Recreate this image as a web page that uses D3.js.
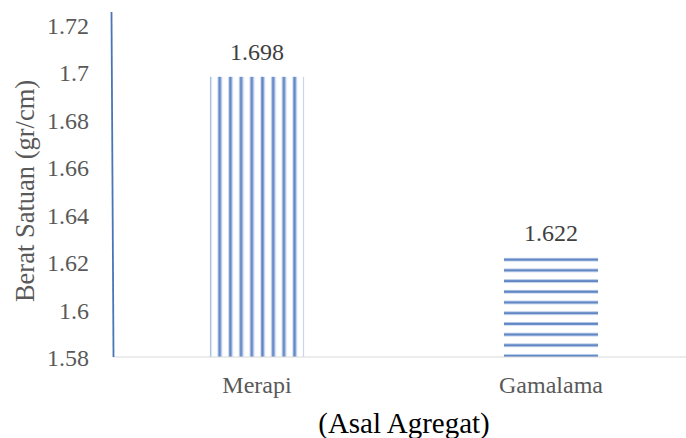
<!DOCTYPE html>
<html>
<head>
<meta charset="utf-8">
<script src="https://cdn.jsdelivr.net/npm/d3@7"></script>
<style>
  html, body { margin: 0; padding: 0; background: #fff; }
  svg { display: block; }
</style>
</head>
<body>
<svg id="chart" width="686" height="438"></svg>
<script>
// Unit weight by aggregate origin
const categories = ["Merapi", "Gamalama"];
const values = [1.698, 1.622];
const valueLabels = ["1.698", "1.622"];
const yTicks = [1.58, 1.6, 1.62, 1.64, 1.66, 1.68, 1.7, 1.72];
const yTickLabels = ["1.58", "1.6", "1.62", "1.64", "1.66", "1.68", "1.7", "1.72"];
const stripeDirections = ["vertical", "horizontal"];

const svg = d3.select("#chart");
const serif = "'Liberation Serif'";

const y = d3.scaleLinear().domain([1.58, 1.7253]).range([357, 12]);
const x = d3.scaleBand().domain(categories).range([110, 698]).paddingInner(0.68).paddingOuter(0.34);

// Stripe patterns
const defs = svg.append("defs");
const period = 10.7;
stripeDirections.forEach((dir, i) => {
  const p = defs.append("pattern")
    .attr("id", "stripe-" + i)
    .attr("patternUnits", "userSpaceOnUse")
    .attr("width", dir === "vertical" ? period : 20)
    .attr("height", dir === "vertical" ? 20 : period);
  if (dir === "vertical") {
    p.attr("x", x(categories[i]) + 0.5);
    p.append("rect").attr("x", 0).attr("y", 0).attr("width", period).attr("height", 20).attr("fill", "#ffffff");
    p.append("rect").attr("x", 0).attr("y", 0).attr("width", 1.2).attr("height", 20).attr("fill", "#c6d6ee");
    p.append("rect").attr("x", 7.2).attr("y", 0).attr("width", 3.5).attr("height", 20).attr("fill", "#b9cbe9");
    p.append("rect").attr("x", 8.1).attr("y", 0).attr("width", 2.2).attr("height", 20).attr("fill", "#5f86c4");
  } else {
    p.attr("y", y(values[i]) + 0.5);
    p.append("rect").attr("x", 0).attr("y", 0).attr("width", 20).attr("height", period).attr("fill", "#ffffff");
    p.append("rect").attr("x", 0).attr("y", 0).attr("width", 20).attr("height", 3.6).attr("fill", "#b9cbe9");
    p.append("rect").attr("x", 0).attr("y", 0.9).attr("width", 20).attr("height", 2.0).attr("fill", "#5f86c4");
  }
});

// Bars
svg.append("g").selectAll("rect")
  .data(categories)
  .join("rect")
  .attr("x", d => x(d))
  .attr("width", x.bandwidth())
  .attr("y", (d, i) => y(values[i]))
  .attr("height", (d, i) => y(1.58) - y(values[i]))
  .attr("fill", (d, i) => "url(#stripe-" + i + ")");

// Value labels
svg.append("g").selectAll("text")
  .data(categories)
  .join("text")
  .attr("x", d => x(d) + x.bandwidth() / 2)
  .attr("y", (d, i) => y(values[i]) - 16.5)
  .attr("text-anchor", "middle")
  .style("font-family", serif)
  .style("font-size", "24px")
  .attr("fill", "#404040")
  .text((d, i) => valueLabels[i]);

// Category axis baseline
svg.append("line")
  .attr("x1", 113).attr("x2", 686)
  .attr("y1", y(1.58)).attr("y2", y(1.58))
  .attr("stroke", "#d9d9d9").attr("stroke-width", 1.2);

// Value axis line
svg.append("line")
  .attr("x1", 111.5).attr("x2", 113.5)
  .attr("y1", 12).attr("y2", y(1.58))
  .attr("stroke", "#4a76b8").attr("stroke-width", 1.8);

// Y tick labels
svg.append("g").selectAll("text")
  .data(yTicks)
  .join("text")
  .attr("x", 89)
  .attr("y", d => y(d) + 9)
  .attr("text-anchor", "end")
  .style("font-family", serif)
  .style("font-size", "24px")
  .attr("fill", "#595959")
  .text((d, i) => yTickLabels[i]);

// Category labels
svg.append("g").selectAll("text")
  .data(categories)
  .join("text")
  .attr("x", d => x(d) + x.bandwidth() / 2)
  .attr("y", 393)
  .attr("text-anchor", "middle")
  .style("font-family", serif)
  .style("font-size", "24px")
  .attr("fill", "#595959")
  .text(d => d);

// Axis titles
svg.append("text")
  .attr("transform", "translate(34,191) rotate(-90)")
  .attr("text-anchor", "middle")
  .style("font-family", serif)
  .style("font-size", "26.5px")
  .attr("fill", "#595959")
  .text("Berat Satuan (gr/cm)");

svg.append("text")
  .attr("x", 404)
  .attr("y", 433)
  .attr("text-anchor", "middle")
  .style("font-family", serif)
  .style("font-size", "29px")
  .attr("fill", "#000")
  .text("(Asal Agregat)");
</script>
</body>
</html>
